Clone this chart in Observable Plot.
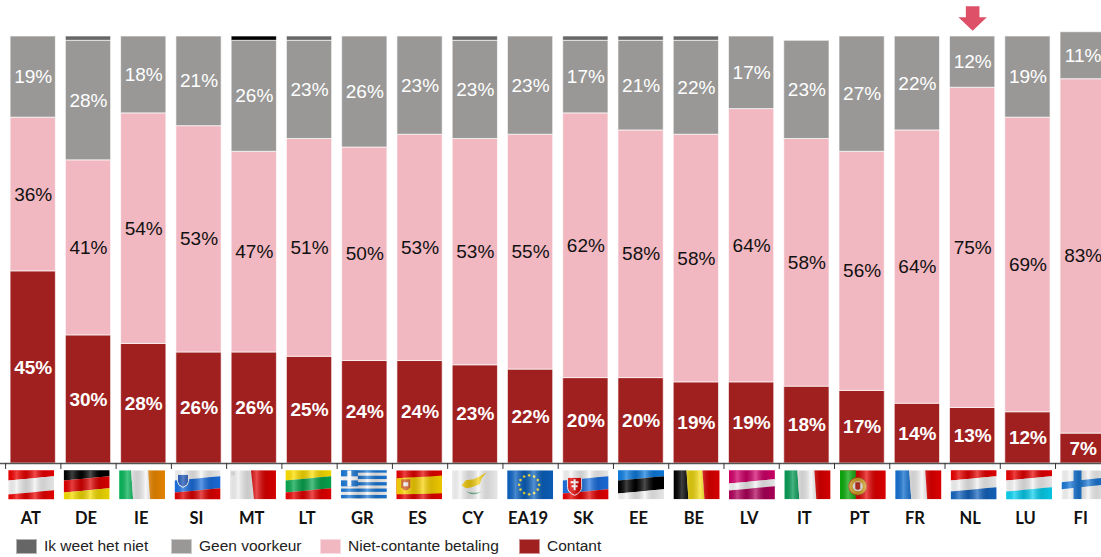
<!DOCTYPE html>
<html><head><meta charset="utf-8">
<script src="https://cdn.jsdelivr.net/npm/d3@7"></script>
<script src="https://cdn.jsdelivr.net/npm/@observablehq/plot@0.6"></script>
<style>
html,body{margin:0;padding:0;background:#fff;overflow:hidden;width:1101px;height:557px}
#chart svg{display:block}
#legend{display:flex;align-items:center;height:16px;margin-top:8px;padding-left:16px;font:15.5px "Liberation Sans",Arial,sans-serif;color:#222}
#legend span.sw{display:inline-block;width:21px;height:15px;margin-right:7px;border:1px solid rgba(255,255,255,.5);box-sizing:border-box}
#legend span.it{display:inline-flex;align-items:center;white-space:nowrap;position:absolute}
</style></head><body>
<div id="chart"></div>
<div id="legend"></div>
<script>
const countries = ["AT","DE","IE","SI","MT","LT","GR","ES","CY","EA19","SK","EE","BE","LV","IT","PT","FR","NL","LU","FI"];
const contant = [45,30,28,26,26,25,24,24,23,22,20,20,19,19,18,17,14,13,12,7];
const nietContant = [36,41,54,53,47,51,50,53,53,55,62,58,58,64,58,56,64,75,69,83];
const geenVoorkeur = [19,28,18,21,26,23,26,23,23,23,17,21,22,17,23,27,22,12,19,11];
const ikWeetNiet = [0,1,0,0,1,1,0,0,1,0,1,1,1,0,0,0,0,0,0,0];
const seriesNames = ["Contant","Niet-contante betaling","Geen voorkeur","Ik weet het niet"];
const seriesValues = [contant,nietContant,geenVoorkeur,ikWeetNiet];
const seriesColors = ["#a02020","#f2b8c2","#999896","#666666"];
const legendOrder = ["Ik weet het niet","Geen voorkeur","Niet-contante betaling","Contant"];
const legendLeft = [16,171,320,519];
const highlighted = ["NL"];

const rows = seriesNames.flatMap((s,k)=>countries.map((c,i)=>({country:c,series:s,value:seriesValues[k][i]}))).filter(d=>d.value>0);

// --- waving flag pictures ---
const W=46,H=29;
const shade = `<defs><linearGradient id="s"><stop offset="0" stop-color="#000" stop-opacity=".02"/><stop offset=".18" stop-color="#fff" stop-opacity=".25"/><stop offset=".38" stop-color="#000" stop-opacity=".16"/><stop offset=".58" stop-color="#fff" stop-opacity=".3"/><stop offset=".78" stop-color="#000" stop-opacity=".14"/><stop offset="1" stop-color="#000" stop-opacity=".06"/></linearGradient></defs>`;
const overlay = `<rect width="${W}" height="${H}" fill="url(#s)"/>`;
function h(cols,ends,t=5){ // horizontal bands tilted upward to the right
  let o="",prev=-t;
  cols.forEach((c,i)=>{const e=ends[i];const a=i?prev:-t-2;const b=i==cols.length-1?H+t+2:e;
    o+=`<path d="M0 ${a+t/1.2} C15 ${a+t/1.6} 30 ${a+t/4} ${W} ${a} V${b} C30 ${b+t/4} 15 ${b+t/1.6} 0 ${b+t/1.2}Z" fill="${c}"/>`;prev=b;});
  return o;
}
function v(cols,ends){ // vertical bands leaning slightly
  let o="",prev=0;
  cols.forEach((c,i)=>{const e=i==cols.length-1?W+4:ends[i];
    o+=`<path d="M${prev} 0 H${e} L${e+2} ${H} H${prev?prev+2:0}Z" fill="${c}"/>`;prev=e;});
  return o;
}
const stars=[...Array(12)].map((_,i)=>{const a=i/12*2*Math.PI;return `<circle cx="${22+10*Math.cos(a)}" cy="${14.5+9.5*Math.sin(a)}" r="1.3" fill="#f5e33a"/>`}).join("");
const flagArt = {
 AT:h(["#ee0000","#f2f2f2","#ee0000"],[6,20,29]),
 DE:h(["#000","#e00000","#f6de00"],[6,18,29]),
 IE:v(["#08b45a","#f5f5f5","#f08a00"],[12,29,46]),
 SI:`<rect width="46" height="29" fill="#fff"/>`+h(["#f5f5f5","#1a6fe0","#e00000"],[6,18,29])+`<path d="M3 4h11v7q0 4-5.5 6q-5.5-2-5.5-6z" fill="#1f55b5" stroke="#fff"/>`,
 MT:`<rect width="46" height="29" fill="#f0f0f0"/><path d="M21 0H46V29H24Z" fill="#e00000"/><rect x="1" y="1" width="4" height="4" fill="#ddd"/>`,
 LT:h(["#ffe000","#08a850","#e80000"],[6,18,29]),
 GR:`<rect width="46" height="29" fill="#f5f5f5"/>`+[0,1,2,3,4].map(i=>`<rect y="${i*6.4-1}" width="46" height="3.3" fill="#1a78d6"/>`).join("")+`<rect width="17" height="16" fill="#1a78d6"/><rect x="6.5" width="4" height="16" fill="#fff"/><rect y="6" width="17" height="4" fill="#fff"/>`,
 ES:`<rect width="46" height="29" fill="#e60000"/><path d="M0 8C15 6 30 7 46 5V23C30 24 15 24 0 24Z" fill="#fad200"/><path d="M5 9h9v8q-4.5 6-9 0z" fill="#d05a20"/><path d="M7 12h5v4H7z" fill="#eee"/>`,
 CY:`<rect width="46" height="29" fill="#f5f5f5"/><path d="M10 15L14 10L22 9L28 6L35 2L30 8L28 14L20 17L14 18Z" fill="#f5d010"/><path d="M14 21q8 6 16 0q-8 3-16 0z" fill="#6ab18a"/>`,
 EA19:`<rect width="46" height="29" fill="#0b62c0"/>`+stars,
 SK:h(["#f5f5f5","#1a6fe0","#e80000"],[6,19,29])+`<path d="M5 7h14v10q0 5-7 8q-7-3-7-8z" fill="#e00000" stroke="#fff"/><path d="M11 9h2v11h-2zM8 11h8v2H8zM9 15h6v2H9z" fill="#fff"/>`,
 EE:h(["#0f7de0","#000","#f5f5f5"],[6,19,29]),
 BE:v(["#000","#f8e010","#e00000"],[13,29,46]),
 LV:h(["#d2006a","#f2f2f2","#b0005a"],[9,16,29]),
 IT:v(["#079a55","#f5f5f5","#dd0000"],[13,30,46]),
 PT:`<rect width="46" height="29" fill="#e60000"/><path d="M0 0H16V29H0Z" fill="#0ba80b"/><circle cx="18" cy="16" r="9" fill="#d6a020" stroke="#b03010"/><circle cx="18" cy="16" r="5" fill="#eee"/><path d="M15.5 12h5v6q-2.5 3-5 0z" fill="#c03020"/>`,
 FR:v(["#1470d0","#f5f5f5","#e60000"],[14,30,46]),
 NL:h(["#e80000","#f2f2f2","#1465c0"],[6,17,29]),
 LU:h(["#e80000","#f2f2f2","#08d0f0"],[6,17,29]),
 FI:`<rect width="46" height="29" fill="#f5f5f5"/><path d="M12 0h8v29h-8z" fill="#1a78d6"/><path d="M0 12L46 7V14L0 19z" fill="#1a78d6"/>`
};
const flagSrc = c => "data:image/svg+xml,"+encodeURIComponent(`<svg xmlns="http://www.w3.org/2000/svg" viewBox="0 0 ${W} ${H}" width="${W}" height="${H}">${shade}<g>${flagArt[c]}</g>${overlay}</svg>`);

const arrow = {draw(ctx){ctx.moveTo(-6.8,-11.5);ctx.lineTo(6.8,-11.5);ctx.lineTo(6.8,-0.5);ctx.lineTo(14.2,-0.5);ctx.lineTo(0,13);ctx.lineTo(-14.2,-0.5);ctx.lineTo(-6.8,-0.5);ctx.closePath();}};

const fillOf = d => d.country==="MT"&&d.series==="Ik weet het niet" ? "#000" : seriesColors[seriesNames.indexOf(d.series)];
const arial = '"Liberation Sans",Arial,sans-serif';
const stackOpts = {x:"country",y:"value",z:"series"};

const chart = Plot.plot({
  width:1101,height:530,marginTop:0,marginLeft:0,marginRight:0,marginBottom:67,
  style:{background:"transparent",overflow:"hidden"},
  x:{domain:countries,range:[5.1,1110.3],padding:0,round:false,label:null},
  y:{domain:[0,100],range:[463,36],axis:null,label:null},
  marks:[
    Plot.barY(rows,Plot.stackY({...stackOpts,fill:fillOf,stroke:"#fff",strokeOpacity:.65,strokeWidth:1,insetLeft:5,insetRight:5})),
    Plot.ruleY([0],{stroke:"#555",strokeWidth:1.5}),
    Plot.ruleX(countries,{x:d=>d,y1:0,y2:-1.4,dx:-27.63,stroke:"#333",strokeWidth:1}),
    ...countries.map((c,i)=>Plot.image([c],{x:d=>d,y:-5,src:flagSrc,width:46,height:29,preserveAspectRatio:"none",dx:-2+3*i/17})),
    Plot.axisX({tickSize:0,tickPadding:49,fontSize:16.5,fontWeight:"bold",fontFamily:"Lato",fill:"#111",dx:-2.5,label:null}),
    Plot.dot(highlighted,{x:d=>d,y:104.4,symbol:arrow,r:10,fill:"#de5068",stroke:"none"}),
    ...["Contant","Niet-contante betaling","Geen voorkeur"].map(s=>
      Plot.text(rows,Plot.stackY({...stackOpts,
        text:d=>d.series===s?d.value+"%":null,
        fill:s==="Niet-contante betaling"?"#111":"#fff",
        fontSize:19,fontFamily:arial,fontWeight:s==="Contant"?"bold":"normal"})))
  ]
});
document.getElementById("chart").append(chart);

const lg=document.getElementById("legend");
legendOrder.forEach((s,i)=>{
  const it=document.createElement("span");it.className="it";it.style.left=legendLeft[i]+"px";
  const sw=document.createElement("span");sw.className="sw";sw.style.background=seriesColors[seriesNames.indexOf(s)];
  it.append(sw,document.createTextNode(s));lg.append(it);
});
</script>
</body></html>
